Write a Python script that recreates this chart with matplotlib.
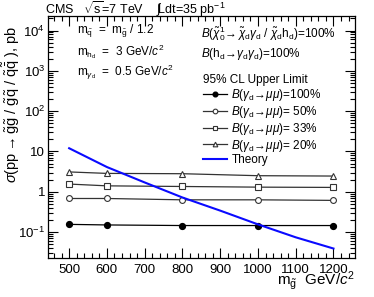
import numpy as np
import matplotlib
matplotlib.use("Agg")
import matplotlib.pyplot as plt
from matplotlib.ticker import MultipleLocator, LogLocator, NullFormatter

plt.rcParams['font.family'] = ['Liberation Sans', 'DejaVu Sans']
plt.rcParams['mathtext.fontset'] = 'custom'
plt.rcParams['mathtext.rm'] = 'Liberation Sans'
plt.rcParams['mathtext.it'] = 'Liberation Sans:italic'
plt.rcParams['mathtext.bf'] = 'Liberation Sans:bold'

# gluino masses and 95% CL upper limits (pb)
mass = [500, 600, 800, 1000, 1200]
lim_br100 = [0.155, 0.150, 0.145, 0.145, 0.145]
lim_br50 = [0.68, 0.68, 0.63, 0.63, 0.61]
lim_br33 = [1.55, 1.40, 1.35, 1.30, 1.28]
lim_br20 = [3.1, 2.85, 2.8, 2.5, 2.45]

theory_mass = [500, 600, 700, 800, 900, 1000, 1100, 1200]
theory_xsec = [12.0, 4.1, 1.7, 0.72, 0.34, 0.155, 0.074, 0.039]

W, H = 374, 297
fig = plt.figure(figsize=(W / 100, H / 100), dpi=100)
ax = fig.add_axes([48 / W, 1 - 258 / H, 307 / W, 242 / H])

ms = 4.2
l1, = ax.plot(mass, lim_br100, '-o', color='black', lw=0.9, ms=ms, mfc='black',
              label=r'$B(\gamma_{\mathrm{d}}\!\rightarrow\!\mu\mu)$=100%')
l2, = ax.plot(mass, lim_br50, '-o', color='#333333', lw=0.9, ms=ms, mfc='white', mew=0.8,
              label=r'$B(\gamma_{\mathrm{d}}\!\rightarrow\!\mu\mu)$= 50%')
l3, = ax.plot(mass, lim_br33, '-s', color='#333333', lw=0.9, ms=ms, mfc='white', mew=0.8,
              label=r'$B(\gamma_{\mathrm{d}}\!\rightarrow\!\mu\mu)$= 33%')
l4, = ax.plot(mass, lim_br20, '-^', color='#333333', lw=0.9, ms=ms, mfc='white', mew=0.8,
              label=r'$B(\gamma_{\mathrm{d}}\!\rightarrow\!\mu\mu)$= 20%')
lt, = ax.plot(theory_mass, theory_xsec, '-', color='#0a0aff', lw=1.5, label='Theory')

ax.set_yscale('log')
ax.set_xlim(444, 1257)
ax.set_ylim(10 ** -1.644, 10 ** 4.36)

ax.xaxis.set_major_locator(MultipleLocator(100))
ax.xaxis.set_minor_locator(MultipleLocator(20))
ax.yaxis.set_minor_locator(LogLocator(base=10, subs=np.arange(2, 10), numticks=20))
ax.yaxis.set_minor_formatter(NullFormatter())
ax.set_yticks([0.1, 1, 10, 100, 1000, 10000])
ax.set_yticklabels([r'$10^{-1}$', '1', '10', r'$10^{2}$', r'$10^{3}$', r'$10^{4}$'])

ax.tick_params(which='both', direction='in', top=True, right=True, labelsize=9.5, width=0.8)
ax.tick_params(which='major', length=7)
ax.tick_params(which='minor', length=3.5)
ax.tick_params(axis='x', pad=4)
ax.tick_params(axis='y', pad=2)
for s in ax.spines.values():
    s.set_linewidth(0.9)

ax.set_xlabel(r'$\mathrm{m}_{\tilde{\mathrm{g}}}$  GeV/$c^2$', fontsize=11, loc='right')
ax.xaxis.set_label_coords(1.0, -0.108)
ax.xaxis.label.set_va('baseline')
ax.set_ylabel(r'$\sigma(\mathrm{pp}\rightarrow\tilde{\mathrm{g}}\tilde{\mathrm{g}}\ /\ \tilde{\mathrm{g}}\tilde{\mathrm{q}}\ /\ \tilde{\mathrm{q}}\tilde{\bar{\mathrm{q}}}\ )$, pb',
              fontsize=10.5, loc='top')
ax.yaxis.set_label_coords(-0.085, 0.96)

fs = 8.5
fig.text(45 / W, 1 - 9 / H, r'CMS   $\sqrt{\mathrm{s}}$=7 TeV    $\int\!$Ldt=35 pb$^{-1}$',
         fontsize=9, va='center')
fig.text(77 / W, 1 - 32 / H, r'm$_{\tilde{\mathrm{q}}}$  =  m$_{\tilde{\mathrm{g}}}$ / 1.2', fontsize=fs, va='center')
fig.text(77 / W, 1 - 52 / H, r'm$_{\mathrm{h_d}}$  =  3 GeV/$c^2$', fontsize=fs, va='center')
fig.text(77 / W, 1 - 72 / H, r'm$_{\gamma_{\mathrm{d}}}$  =  0.5 GeV/$c^2$', fontsize=fs, va='center')
fig.text(201 / W, 1 - 34 / H,
         r'$B(\tilde{\chi}_0^1\!\rightarrow\tilde{\chi}_{\mathrm{d}}\gamma_{\mathrm{d}}$ / $\tilde{\chi}_{\mathrm{d}}\mathrm{h}_{\mathrm{d}})$=100%',
         fontsize=fs, va='center')
fig.text(201 / W, 1 - 54 / H,
         r'$B(\mathrm{h}_{\mathrm{d}}\!\rightarrow\!\gamma_{\mathrm{d}}\gamma_{\mathrm{d}})$=100%',
         fontsize=fs, va='center')

leg = ax.legend(handles=[l1, l2, l3, l4, lt], title='95% CL Upper Limit', fontsize=fs,
                title_fontsize=fs, loc='upper left', bbox_to_anchor=(203 / W, 1 - 74 / H),
                bbox_transform=fig.transFigure, frameon=False, handlelength=2.0,
                handletextpad=0.4, labelspacing=0.06, borderpad=0, borderaxespad=0,
                alignment='left', markerscale=0.8)
leg._legend_box.sep = 1

fig.savefig('out.png', dpi=100)
